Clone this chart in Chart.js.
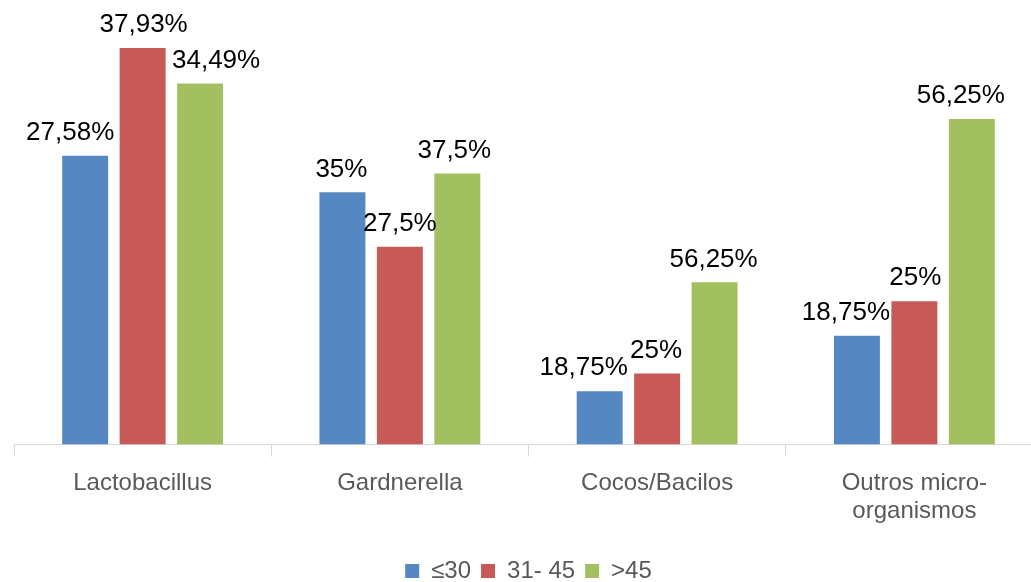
<!DOCTYPE html>
<html>
<head>
<meta charset="utf-8">
<script src="https://cdn.jsdelivr.net/npm/chart.js@4"></script>
<style>
  body { margin: 0; background: #fff; overflow: hidden; }
  #wrap { width: 1043px; height: 593px; position: relative; }
</style>
</head>
<body>
<div id="wrap"><canvas id="chart"></canvas></div>
<script>
const categories = ['Lactobacillus', 'Gardnerella', 'Cocos/Bacilos', ['Outros micro-', 'organismos']];
const seriesNames = ['≤30', '31- 45', '>45'];
// bar heights as drawn in the picture (same scale as the Lactobacillus group)
const young = [27.6, 24.1, 5.1, 10.4];
const middle = [37.9, 18.9, 6.8, 13.7];
const older = [34.5, 25.9, 15.5, 31.1];
// the printed labels
const youngLabels = ['27,58%', '35%', '18,75%', '18,75%'];
const middleLabels = ['37,93%', '27,5%', '25%', '25%'];
const olderLabels = ['34,49%', '37,5%', '56,25%', '56,25%'];

const colors = ['#5588c3', '#c75a56', '#a2c05f'];
// small horizontal nudges of the labels, like in the original
const nudges = [[-15, -1, -16, -11], [1, 0, -1, 1], [16, -3, -1, -11]];

const valueLabels = {
  id: 'valueLabels',
  afterDatasetsDraw(chart) {
    const ctx = chart.ctx;
    const texts = [youngLabels, middleLabels, olderLabels];
    ctx.save();
    ctx.font = '26px "Liberation Sans", Arial, sans-serif';
    ctx.textAlign = 'center';
    ctx.textBaseline = 'middle';
    ctx.fillStyle = '#000';
    chart.data.datasets.forEach((ds, i) => {
      chart.getDatasetMeta(i).data.forEach((bar, j) => {
        ctx.fillText(texts[i][j], bar.x + nudges[i][j], bar.y - 23);
      });
    });
    ctx.restore();
  }
};

new Chart(document.getElementById('chart'), {
  type: 'bar',
  data: {
    labels: categories,
    datasets: [
      { label: seriesNames[0], data: young, backgroundColor: colors[0] },
      { label: seriesNames[1], data: middle, backgroundColor: colors[1] },
      { label: seriesNames[2], data: older, backgroundColor: colors[2] }
    ]
  },
  options: {
    responsive: true,
    maintainAspectRatio: false,
    animation: false,
    barPercentage: 0.8,
    categoryPercentage: 0.67,
    layout: { padding: { top: 5, left: 14, right: 0, bottom: 0 } },
    scales: {
      x: {
        grid: { display: true, drawOnChartArea: false, drawTicks: true, tickLength: 12, color: '#d9d9d9', offset: true },
        border: { color: '#d9d9d9', width: 1 },
        ticks: { color: '#595959', padding: 12, font: { family: '"Liberation Sans", Arial, sans-serif', size: 24 } },
        title: { display: true, text: ' ', font: { size: 9 }, padding: { top: 0, bottom: 0 } }
      },
      y: { display: false, min: 0, max: 42 }
    },
    plugins: {
      legend: {
        position: 'bottom',
        labels: {
          boxWidth: 14,
          boxHeight: 14,
          padding: 10,
          color: '#595959',
          font: { family: '"Liberation Sans", Arial, sans-serif', size: 24 }
        }
      },
      tooltip: { enabled: false }
    }
  },
  plugins: [valueLabels]
});
</script>
</body>
</html>
